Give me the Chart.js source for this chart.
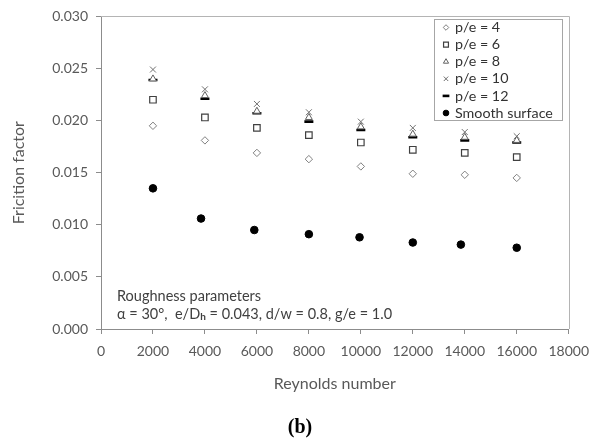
<!DOCTYPE html>
<html>
<head>
<meta charset="utf-8">
<script src="https://cdn.jsdelivr.net/npm/chart.js@4.4.0/dist/chart.umd.min.js"></script>
<style>
  html, body { margin: 0; padding: 0; background: #fff; }
  #wrap { width: 598px; height: 447px; position: relative; }
</style>
</head>
<body>
<div id="wrap"><canvas id="chart"></canvas></div>
<script>
// Reynolds numbers (x) for the ribbed duct runs and the smooth reference
var reynolds = [2000, 4000, 6000, 8000, 10000, 12000, 14000, 16000];
var reynoldsSmooth = [2000, 3850, 5900, 8000, 9950, 12000, 13850, 16000];

// friction factor
var fPe4 = [0.0195, 0.0181, 0.0169, 0.0163, 0.0156, 0.0149, 0.0148, 0.0145];
var fPe6 = [0.0220, 0.0203, 0.0193, 0.0186, 0.0179, 0.0172, 0.0169, 0.0165];
var fPe8 = [0.0240, 0.0224, 0.0209, 0.0203, 0.0194, 0.0187, 0.0184, 0.0181];
var fPe10 = [0.0249, 0.0230, 0.0216, 0.0208, 0.0199, 0.0193, 0.0189, 0.0185];
var fPe12 = [0.0239, 0.0221, 0.0207, 0.0199, 0.0191, 0.0184, 0.0181, 0.0179];
var fSmooth = [0.0135, 0.0106, 0.0095, 0.0091, 0.0088, 0.0083, 0.0081, 0.0078];

var seriesNames = ["p/e = 4", "p/e = 6", "p/e = 8", "p/e = 10", "p/e = 12", "Smooth surface"];

var FONT = "Lato";
var AXIS_GREY = "#8c8c8c";
var TEXT_GREY = "#595959";

function punkte(xs, ys) {
  return xs.map(function (x, i) { return { x: x, y: ys[i] }; });
}

function serie(name, xs, ys, style) {
  return Object.assign({
    label: name,
    data: punkte(xs, ys),
    showLine: false,
    pointBackgroundColor: "#ffffff",
    pointBorderWidth: 1
  }, style);
}

var datasets = [
  serie(seriesNames[0], reynolds, fPe4, { pointStyle: "rectRot", pointRadius: 3.7, pointBorderColor: "#808080" }),
  serie(seriesNames[1], reynolds, fPe6, { pointStyle: "rect", pointRadius: 4.6, pointBorderColor: "#404040", pointBorderWidth: 1.2 }),
  serie(seriesNames[2], reynolds, fPe8, { pointStyle: "triangle", pointRadius: 4, pointBorderColor: "#606060" }),
  serie(seriesNames[3], reynolds, fPe10, { pointStyle: "crossRot", pointRadius: 4.2, pointBorderColor: "#707070" }),
  serie(seriesNames[4], reynolds, fPe12, { pointStyle: "line", pointRadius: 4.5, pointBorderColor: "#000000", pointBorderWidth: 2.6 }),
  serie(seriesNames[5], reynoldsSmooth, fSmooth, { pointStyle: "circle", pointRadius: 3.8, pointBackgroundColor: "#000000", pointBorderColor: "#000000" })
];

// Rahmen oben/rechts, Legende, Textkasten und "(b)"
var extras = {
  id: "extras",
  beforeDatasetsDraw: function (chart) {
    var a = chart.chartArea, ctx = chart.ctx;
    ctx.save();
    ctx.strokeStyle = "#b4b4b4";
    ctx.lineWidth = 1;
    ctx.beginPath();
    ctx.moveTo(a.left, Math.round(a.top) + 0.5);
    ctx.lineTo(Math.round(a.right) + 0.5, Math.round(a.top) + 0.5);
    ctx.lineTo(Math.round(a.right) + 0.5, a.bottom);
    ctx.stroke();
    ctx.restore();
  },
  afterDraw: function (chart) {
    var ctx = chart.ctx;
    ctx.save();

    // legend box
    var lx = 434.5, ly = 19.5, lw = 128, lh = 101;
    ctx.fillStyle = "#ffffff";
    ctx.fillRect(lx, ly, lw, lh);
    ctx.strokeStyle = "#a6a6a6";
    ctx.lineWidth = 1;
    ctx.strokeRect(lx, ly, lw, lh);
    ctx.font = "14.3px " + FONT;
    ctx.textBaseline = "middle";
    ctx.textAlign = "left";
    chart.data.datasets.forEach(function (ds, i) {
      var y = 27.5 + i * 17.1;
      ctx.fillStyle = ds.pointBackgroundColor;
      ctx.strokeStyle = ds.pointBorderColor;
      ctx.lineWidth = ds.pointBorderWidth;
      Chart.helpers.drawPoint(ctx, {
        pointStyle: ds.pointStyle,
        radius: ds.pointRadius * 0.75,
        rotation: 0,
        borderWidth: ds.pointBorderWidth
      }, 446, y);
      ctx.fillStyle = "#333333";
      ctx.fillText(ds.label, 455, y);
    });

    // roughness parameters text
    ctx.fillStyle = "#404040";
    ctx.font = "14.5px " + FONT;
    ctx.fillText("Roughness parameters", 117, 296);
    var x = 117, y = 314;
    var t1 = "\u03b1 = 30\u00b0,  e/D";
    ctx.fillText(t1, x, y);
    x += ctx.measureText(t1).width;
    ctx.font = "bold 10px " + FONT;
    ctx.fillText("h", x, y + 3);
    x += ctx.measureText("h").width;
    ctx.font = "14.5px " + FONT;
    ctx.fillText(" = 0.043, d/w = 0.8, g/e = 1.0", x, y);

    // panel label
    ctx.fillStyle = "#000000";
    ctx.font = "bold 20px 'Liberation Serif'";
    ctx.textAlign = "center";
    ctx.fillText("(b)", 300, 428);
    ctx.restore();
  }
};

new Chart(document.getElementById("chart").getContext("2d"), {
  type: "scatter",
  data: { datasets: datasets },
  plugins: [extras],
  options: {
    responsive: true,
    maintainAspectRatio: false,
    animation: false,
    layout: { padding: { left: 0, right: 27, top: 15, bottom: 0 } },
    plugins: {
      legend: { display: false },
      tooltip: { enabled: false }
    },
    scales: {
      x: {
        type: "linear",
        min: 0,
        max: 18000,
        afterFit: function (s) { s.height = 118; },
        ticks: {
          stepSize: 2000,
          padding: 9,
          color: TEXT_GREY,
          font: { family: FONT, size: 14 },
          callback: function (v) { return String(v); }
        },
        grid: { display: true, drawOnChartArea: false, drawTicks: true, tickLength: 5, color: AXIS_GREY },
        border: { display: true, color: AXIS_GREY },
        title: {
          display: true,
          text: "Reynolds number",
          color: TEXT_GREY,
          font: { family: FONT, size: 16 },
          padding: { top: 0, bottom: 54 }
        }
      },
      y: {
        type: "linear",
        min: 0,
        max: 0.03,
        afterFit: function (s) { s.width = 101; },
        ticks: {
          stepSize: 0.005,
          padding: 8,
          color: TEXT_GREY,
          font: { family: FONT, size: 14 },
          callback: function (v) { return v.toFixed(3); }
        },
        grid: { display: true, drawOnChartArea: false, drawTicks: true, tickLength: 5, color: AXIS_GREY },
        border: { display: true, color: AXIS_GREY },
        title: {
          display: true,
          text: "Fricition factor",
          color: TEXT_GREY,
          font: { family: FONT, size: 16 },
          padding: { top: 9, bottom: 0 }
        }
      }
    }
  }
});
</script>
</body>
</html>
